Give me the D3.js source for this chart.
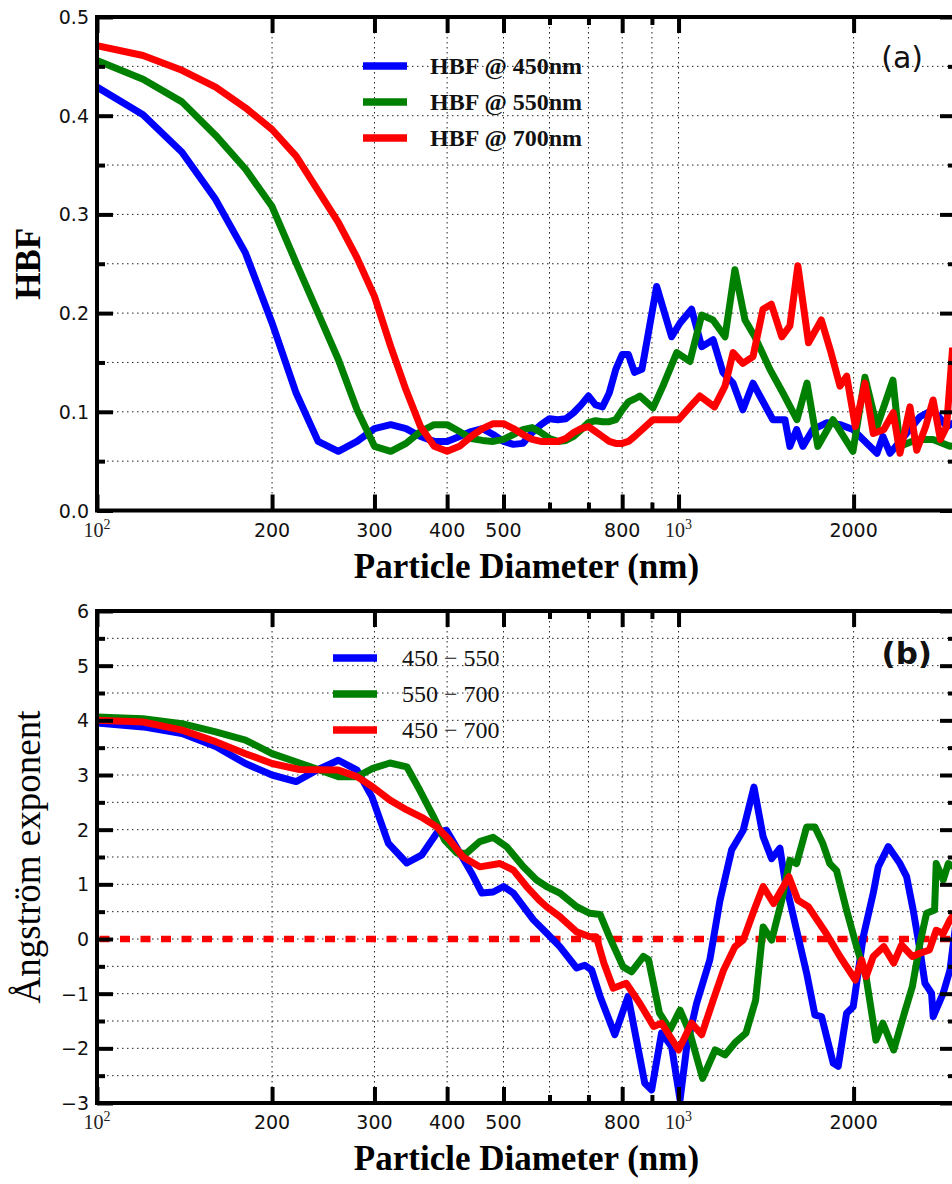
<!DOCTYPE html>
<html>
<head>
<meta charset="utf-8">
<script src="https://cdn.jsdelivr.net/npm/d3@7"></script>
<style>
    body { margin: 0; background: #fff; }
    svg { display: block; }
    .grid line { stroke: #222; stroke-width: 1; stroke-dasharray: 1.5,3.5; }
    .ticklabel { font-family: "DejaVu Sans", sans-serif; font-size: 19px; fill: #111; }
    .axtitle { font-family: "Liberation Serif", serif; fill: #000; }
</style>
</head>
<body>
<script>
//wrap everything in a self-executing anonymous function
(function () {

//HBF values, [diameter nm, value]
    var hbf450 = [[100,0.429],[120,0.401],[140,0.363],[160,0.315],[180,0.261],[200,0.190],[220,0.119],[240,0.070],[260,0.060],[280,0.070],[300,0.083],[320,0.087],[340,0.083],[360,0.075],[380,0.070],[400,0.070],[420,0.075],[440,0.080],[460,0.083],[480,0.077],[500,0.070],[520,0.067],[540,0.068],[560,0.079],[580,0.087],[600,0.093],[620,0.092],[640,0.093],[660,0.099],[680,0.107],[700,0.116],[720,0.107],[740,0.105],[760,0.119],[780,0.143],[800,0.158],[820,0.158],[840,0.140],[865,0.143],[917,0.227],[973,0.176],[1006,0.190],[1053,0.204],[1096,0.166],[1147,0.173],[1192,0.140],[1241,0.129],[1290,0.102],[1343,0.129],[1380,0.116],[1453,0.092],[1524,0.092],[1554,0.065],[1596,0.082],[1636,0.065],[1702,0.082],[1800,0.089],[1895,0.087],[1995,0.082],[2076,0.072],[2194,0.058],[2246,0.075],[2310,0.058],[2403,0.070],[2601,0.095],[2738,0.102],[2894,0.085],[3000,0.090]];
    var hbf550 = [[100,0.456],[120,0.437],[140,0.414],[160,0.380],[180,0.346],[200,0.308],[220,0.251],[240,0.200],[260,0.153],[280,0.102],[300,0.065],[320,0.060],[340,0.068],[360,0.080],[380,0.087],[400,0.087],[420,0.080],[440,0.073],[460,0.071],[480,0.070],[500,0.072],[520,0.077],[540,0.082],[560,0.084],[580,0.079],[600,0.073],[620,0.070],[640,0.071],[660,0.075],[680,0.082],[700,0.089],[720,0.091],[740,0.090],[760,0.090],[780,0.092],[800,0.102],[820,0.110],[840,0.113],[858,0.116],[904,0.104],[940,0.126],[993,0.160],[1046,0.151],[1096,0.198],[1146,0.193],[1202,0.176],[1250,0.244],[1301,0.193],[1353,0.176],[1436,0.143],[1512,0.119],[1598,0.092],[1663,0.129],[1736,0.065],[1843,0.092],[1995,0.060],[2092,0.135],[2194,0.085],[2337,0.132],[2403,0.065],[2570,0.072],[2738,0.072],[2929,0.065],[3000,0.066]];
    var hbf700 = [[100,0.471],[120,0.461],[140,0.446],[160,0.429],[180,0.408],[200,0.386],[220,0.359],[240,0.324],[260,0.292],[280,0.256],[300,0.217],[320,0.166],[340,0.122],[360,0.085],[380,0.065],[400,0.060],[420,0.065],[440,0.075],[460,0.083],[480,0.088],[500,0.088],[520,0.083],[540,0.077],[560,0.072],[580,0.070],[600,0.070],[620,0.070],[640,0.073],[660,0.079],[680,0.083],[700,0.085],[720,0.080],[740,0.075],[760,0.070],[780,0.068],[800,0.068],[820,0.070],[840,0.075],[904,0.092],[956,0.092],[1000,0.092],[1046,0.105],[1088,0.116],[1153,0.105],[1202,0.126],[1241,0.160],[1290,0.149],[1343,0.156],[1397,0.204],[1444,0.209],[1505,0.176],[1554,0.187],[1604,0.248],[1673,0.170],[1760,0.193],[1829,0.160],[1895,0.126],[1946,0.136],[2014,0.085],[2092,0.129],[2162,0.078],[2254,0.082],[2340,0.099],[2403,0.058],[2500,0.105],[2568,0.061],[2660,0.085],[2740,0.112],[2820,0.072],[2890,0.085],[2960,0.165]];

//Angstrom exponent values, [diameter nm, value]
    var ang450550 = [[100,3.95],[120,3.88],[140,3.76],[160,3.52],[180,3.21],[200,3.00],[220,2.88],[240,3.10],[260,3.27],[280,3.09],[297,2.60],[317,1.75],[341,1.39],[362,1.54],[384,1.94],[399,1.99],[421,1.57],[441,1.20],[459,0.84],[480,0.86],[500,0.96],[520,0.84],[563,0.35],[593,0.11],[625,-0.14],[668,-0.53],[690,-0.48],[709,-0.57],[733,-1.05],[777,-1.75],[819,-1.05],[875,-2.64],[899,-2.76],[935,-1.72],[973,-1.97],[1006,-2.94],[1033,-1.97],[1074,-1.18],[1132,-0.38],[1178,0.70],[1234,1.63],[1292,1.99],[1348,2.78],[1398,1.87],[1446,1.47],[1494,1.66],[1524,1.08],[1661,-0.63],[1716,-1.39],[1762,-1.42],[1845,-2.27],[1882,-2.33],[1945,-1.36],[1997,-1.24],[2078,0.04],[2162,0.84],[2205,1.32],[2294,1.69],[2403,1.38],[2467,1.14],[2532,0.53],[2601,-0.20],[2653,-0.81],[2723,-0.99],[2741,-1.42],[2852,-0.99],[2929,-0.57],[3000,0.30]];
    var ang550700 = [[100,4.06],[120,4.03],[140,3.94],[160,3.79],[180,3.64],[200,3.39],[223,3.22],[260,2.97],[280,2.97],[298,3.12],[319,3.22],[341,3.15],[359,2.72],[379,2.24],[396,1.81],[416,1.57],[432,1.57],[455,1.78],[480,1.86],[506,1.69],[541,1.32],[570,1.08],[593,0.96],[625,0.84],[668,0.59],[704,0.47],[733,0.45],[762,0.02],[803,-0.51],[830,-0.60],[870,-0.32],[888,-0.38],[927,-1.35],[967,-1.66],[1006,-1.30],[1046,-1.72],[1100,-2.55],[1156,-2.03],[1202,-2.12],[1255,-1.88],[1306,-1.72],[1357,-1.12],[1398,0.22],[1446,-0.02],[1505,0.71],[1554,1.44],[1596,1.38],[1661,2.05],[1716,2.05],[1770,1.75],[1820,1.38],[1870,1.25],[1945,0.53],[2024,-0.14],[2101,-0.69],[2185,-1.85],[2246,-1.54],[2344,-2.03],[2445,-1.36],[2524,-0.87],[2601,-0.08],[2670,0.47],[2756,0.53],[2774,1.38],[2852,1.08],[2910,1.38],[3000,1.30]];
    var ang450700 = [[100,4.00],[120,3.97],[140,3.82],[160,3.61],[180,3.39],[200,3.21],[223,3.10],[260,3.09],[280,2.97],[298,2.78],[319,2.54],[341,2.36],[364,2.21],[384,2.05],[404,1.81],[426,1.50],[455,1.32],[493,1.38],[520,1.26],[548,0.96],[576,0.71],[593,0.59],[625,0.41],[668,0.13],[704,0.04],[722,0.04],[744,-0.44],[772,-0.90],[813,-0.81],[858,-1.18],[906,-1.60],[935,-1.54],[1000,-2.03],[1053,-1.54],[1096,-1.75],[1147,-1.12],[1195,-0.57],[1250,-0.14],[1292,-0.02],[1349,0.53],[1398,0.96],[1457,0.65],[1548,1.14],[1604,0.71],[1672,0.59],[1795,0.10],[1895,-0.32],[2014,-0.75],[2065,-0.38],[2101,-0.69],[2162,-0.32],[2254,-0.14],[2344,-0.44],[2418,-0.11],[2524,-0.32],[2601,-0.26],[2700,-0.20],[2774,0.16],[2852,0.10],[2929,0.35],[3000,0.50]];

//tick values and labels
    var xMajorTicks = [100, 200, 300, 400, 500, 800, 1000, 2000];
    var xTickLabels = ["10^2", "200", "300", "400", "500", "800", "10^3", "2000"];
    var xMinorTicks = [600, 700, 900, 3000];
    var hbfMajor = [0, 0.1, 0.2, 0.3, 0.4, 0.5];
    var hbfMinor = [0.05, 0.15, 0.25, 0.35, 0.45];
    var hbfTickLabels = ["0.0", "0.1", "0.2", "0.3", "0.4", "0.5"];
    var angMajor = [-3, -2, -1, 0, 1, 2, 3, 4, 5, 6];
    var angMinor = [-2.5, -1.5, -0.5, 0.5, 1.5, 2.5, 3.5, 4.5, 5.5];
    var angTickLabels = ["\u22123", "\u22122", "\u22121", "0", "1", "2", "3", "4", "5", "6"];

//legend text and colours
    var hbfNames = ["HBF @ 450nm", "HBF @ 550nm", "HBF @ 700nm"];
    var angNames = ["450 \u2212 550", "550 \u2212 700", "450 \u2212 700"];
    var lineColors = ["#0000ff", "#008000", "#ff0000"];

    var width = 952,
        height = 1184,
        left = 97,
        right = 956;

    var xScale = d3.scaleLog()
        .domain([100, 3000])
        .range([left, right]);

    var svg = d3.select("body")
        .append("svg")
        .attr("width", width)
        .attr("height", height);

    svg.append("rect")
        .attr("width", width)
        .attr("height", height)
        .attr("fill", "#fff");

    setPanel({
        id: "a",
        top: 17,
        bottom: 510.5,
        yDomain: [0, 0.5],
        yMajor: hbfMajor,
        yMinor: hbfMinor,
        yLabels: hbfTickLabels,
        series: [hbf450, hbf550, hbf700],
        names: hbfNames,
        yTitle: "HBF",
        yTitleSize: 35,
        yTitleWeight: "bold",
        legendX: 363, legendY: 66, legendTextX: 430,
        legendFamily: "'Liberation Serif', serif", legendSize: 24, legendWeight: "bold",
        letter: "(a)", letterX: 923, letterY: 68, letterSize: 30, letterWeight: "normal",
        zeroLine: false
    });

    setPanel({
        id: "b",
        top: 611,
        bottom: 1103,
        yDomain: [-3, 6],
        yMajor: angMajor,
        yMinor: angMinor,
        yLabels: angTickLabels,
        series: [ang450550, ang550700, ang450700],
        names: angNames,
        yTitle: "\u00c5ngstr\u00f6m exponent",
        yTitleSize: 37,
        yTitleWeight: "normal",
        legendX: 333, legendY: 658, legendTextX: 402,
        legendFamily: "'Liberation Serif', serif", legendSize: 24, legendWeight: "normal",
        letter: "(b)", letterX: 932, letterY: 664, letterSize: 31, letterWeight: "bold",
        zeroLine: true
    });

//draw one panel: grid, curves, frame, ticks, labels and legend
    function setPanel(cfg) {
        var yScale = d3.scaleLinear()
            .domain(cfg.yDomain)
            .range([cfg.bottom, cfg.top]);

        var panel = svg.append("g").attr("class", "panel-" + cfg.id);

        //dotted grid at major and minor ticks
        var grid = panel.append("g").attr("class", "grid");
        grid.selectAll(".vgrid")
            .data(xMajorTicks.concat(xMinorTicks).filter(function (d) { return d > 100 && d < 3000; }))
            .enter()
            .append("line")
            .attr("x1", function (d) { return xScale(d); })
            .attr("x2", function (d) { return xScale(d); })
            .attr("y1", cfg.top)
            .attr("y2", cfg.bottom);
        grid.selectAll(".hgrid")
            .data(cfg.yMajor.concat(cfg.yMinor).filter(function (d) {
                return d > cfg.yDomain[0] && d < cfg.yDomain[1];
            }))
            .enter()
            .append("line")
            .attr("x1", left)
            .attr("x2", right)
            .attr("y1", function (d) { return yScale(d); })
            .attr("y2", function (d) { return yScale(d); });

        //clip curves to the plot area
        svg.append("clipPath")
            .attr("id", "clip-" + cfg.id)
            .append("rect")
            .attr("x", left)
            .attr("y", cfg.top)
            .attr("width", right - left)
            .attr("height", cfg.bottom - cfg.top);

        var line = d3.line()
            .x(function (d) { return xScale(d[0]); })
            .y(function (d) { return yScale(d[1]); });

        var curves = panel.append("g").attr("clip-path", "url(#clip-" + cfg.id + ")");

        if (cfg.zeroLine) {
            curves.append("path")
                .attr("d", line([[100, 0], [3000, 0]]))
                .attr("fill", "none")
                .attr("stroke", "#ff0000")
                .attr("stroke-width", 6.5)
                .attr("stroke-dasharray", "10,10.5")
                .attr("stroke-dashoffset", 18);
        }

        curves.selectAll(".curve")
            .data(cfg.series)
            .enter()
            .append("path")
            .attr("class", "curve")
            .attr("d", line)
            .attr("fill", "none")
            .attr("stroke", function (d, i) { return lineColors[i]; })
            .attr("stroke-width", 7)
            .attr("stroke-linejoin", "round");

        //ticks, pointing inward on all four sides
        var axes = panel.append("g").attr("class", "axes");
        var tickSets = [
            {axis: d3.axisBottom(xScale).tickValues(xMajorTicks).tickSize(-16), t: "translate(0," + cfg.bottom + ")"},
            {axis: d3.axisBottom(xScale).tickValues(xMinorTicks).tickSize(-8), t: "translate(0," + cfg.bottom + ")"},
            {axis: d3.axisTop(xScale).tickValues(xMajorTicks).tickSize(-16), t: "translate(0," + cfg.top + ")"},
            {axis: d3.axisTop(xScale).tickValues(xMinorTicks).tickSize(-8), t: "translate(0," + cfg.top + ")"},
            {axis: d3.axisLeft(yScale).tickValues(cfg.yMajor).tickSize(-16), t: "translate(" + left + ",0)"},
            {axis: d3.axisLeft(yScale).tickValues(cfg.yMinor).tickSize(-8), t: "translate(" + left + ",0)"},
            {axis: d3.axisRight(yScale).tickValues(cfg.yMajor).tickSize(-16), t: "translate(" + right + ",0)"},
            {axis: d3.axisRight(yScale).tickValues(cfg.yMinor).tickSize(-8), t: "translate(" + right + ",0)"}
        ];
        tickSets.forEach(function (s) {
            var g = axes.append("g")
                .attr("transform", s.t)
                .call(s.axis.tickFormat("").tickSizeOuter(0));
            g.select(".domain").remove();
            g.selectAll("line").attr("stroke", "#000").attr("stroke-width", 4);
        });

        //frame
        panel.append("rect")
            .attr("x", left)
            .attr("y", cfg.top)
            .attr("width", right - left)
            .attr("height", cfg.bottom - cfg.top)
            .attr("fill", "none")
            .attr("stroke", "#000")
            .attr("stroke-width", 4);

        //y tick labels
        panel.selectAll(".ylab")
            .data(cfg.yMajor)
            .enter()
            .append("text")
            .attr("class", "ticklabel")
            .attr("x", 89)
            .attr("y", function (d) { return yScale(d) + 7; })
            .attr("text-anchor", "end")
            .text(function (d, i) { return cfg.yLabels[i]; });

        //x tick labels, powers of ten with a superscript
        var xl = panel.selectAll(".xlab")
            .data(xMajorTicks)
            .enter()
            .append("text")
            .attr("x", function (d) { return xScale(d); })
            .attr("y", cfg.bottom + 26)
            .attr("text-anchor", "middle");
        xl.each(function (d, i) {
            var t = d3.select(this);
            var lab = xTickLabels[i];
            if (lab.indexOf("^") > 0) {
                var parts = lab.split("^");
                t.attr("font-family", "'Liberation Serif', serif")
                    .attr("font-size", 20)
                    .attr("fill", "#222");
                t.append("tspan").text(parts[0]);
                t.append("tspan").attr("dy", -8).attr("font-size", 14).text(parts[1]);
            } else {
                t.attr("class", "ticklabel").text(lab);
            }
        });

        //axis titles
        panel.append("text")
            .attr("class", "axtitle")
            .attr("x", (left + right) / 2)
            .attr("y", cfg.bottom + 67)
            .attr("text-anchor", "middle")
            .attr("font-size", 35)
            .attr("font-weight", "bold")
            .text("Particle Diameter (nm)");

        panel.append("text")
            .attr("class", "axtitle")
            .attr("transform", "translate(40," + ((cfg.top + cfg.bottom) / 2) + ") rotate(-90)")
            .attr("text-anchor", "middle")
            .attr("font-size", cfg.yTitleSize)
            .attr("font-weight", cfg.yTitleWeight)
            .text(cfg.yTitle);

        //legend
        var legend = panel.selectAll(".legend")
            .data(cfg.names)
            .enter()
            .append("g")
            .attr("transform", function (d, i) { return "translate(0," + (cfg.legendY + i * 36) + ")"; });
        legend.append("line")
            .attr("x1", cfg.legendX)
            .attr("x2", cfg.legendX + 44)
            .attr("stroke", function (d, i) { return lineColors[i]; })
            .attr("stroke-width", 7.5);
        legend.append("text")
            .attr("x", cfg.legendTextX)
            .attr("y", 8)
            .attr("font-family", cfg.legendFamily)
            .attr("font-size", cfg.legendSize)
            .attr("font-weight", cfg.legendWeight)
            .attr("fill", "#111")
            .text(function (d) { return d; });

        //panel letter
        panel.append("text")
            .attr("x", cfg.letterX)
            .attr("y", cfg.letterY)
            .attr("text-anchor", "end")
            .attr("font-family", "'DejaVu Sans', sans-serif")
            .attr("font-size", cfg.letterSize)
            .attr("font-weight", cfg.letterWeight)
            .attr("fill", "#111")
            .text(cfg.letter);
    }

})();
</script>
</body>
</html>
